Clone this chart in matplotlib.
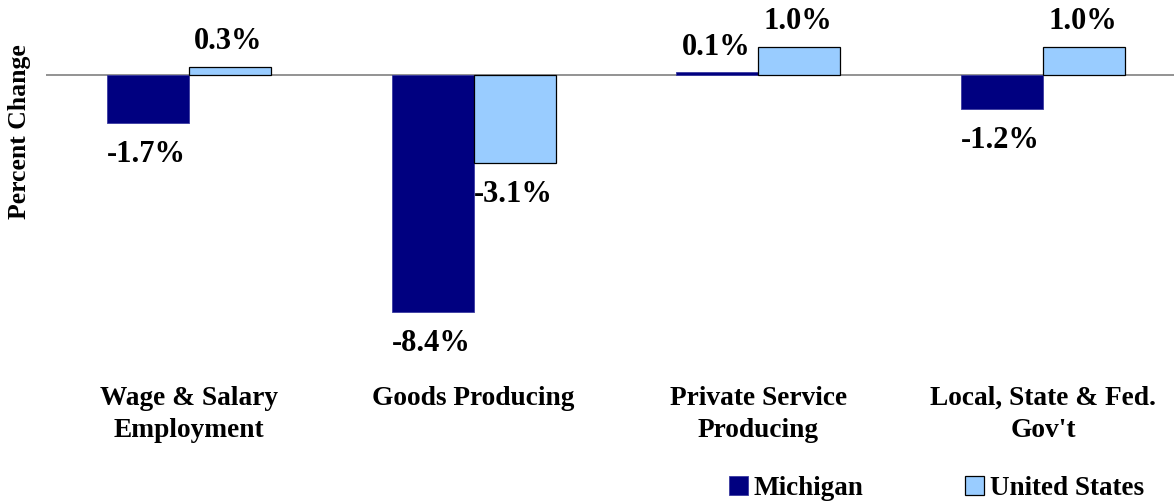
import matplotlib
matplotlib.use("Agg")
import matplotlib.pyplot as plt
import numpy as np

categories = ["Wage & Salary\nEmployment", "Goods Producing", "Private Service\nProducing", "Local, State & Fed.\nGov't"]
michigan = [-1.7, -8.4, 0.1, -1.2]
united_states = [0.3, -3.1, 1.0, 1.0]
series_names = ["Michigan", "United States"]

plt.rcParams['font.family'] = ['Liberation Serif', 'DejaVu Serif']
plt.rcParams['font.weight'] = 'bold'

W, H = 1174, 501
fig = plt.figure(figsize=(W / 100, H / 100), dpi=100)
ax = fig.add_axes([46 / W, 1 - 360 / H, (1174 - 46) / W, 360 / H])

x = np.arange(len(categories))
bw = 0.288
b1 = ax.bar(x - bw / 2, michigan, bw, color='#000080', edgecolor='#3a3aa0', linewidth=0.6, label=series_names[0])
b2 = ax.bar(x + bw / 2, united_states, bw, color='#99CCFF', edgecolor='black', linewidth=0.9, label=series_names[1])

ax.axhline(0, color='#808080', linewidth=1.2, zorder=0)
ax.set_xlim(-0.502, 3.46)
ax.set_ylim(-10.1, 2.66)
for s in ax.spines.values():
    s.set_visible(False)
ax.set_yticks([])
ax.set_xticks([])

for bars, vals in ((b1, michigan), (b2, united_states)):
    for rect, v in zip(bars, vals):
        cx = rect.get_x() + rect.get_width() / 2
        off = 18 if v >= 0 else -23
        ax.annotate(f"{v:.1f}%", (cx, v), xytext=(-1, off), textcoords='offset points',
                    ha='center', va='center', fontsize=22, fontweight='bold')

for xi, lab in zip(x, categories):
    ax.annotate(lab, (xi, 0), xycoords=('data', 'figure fraction'),
                xytext=(xi, 1 - 386 / H), textcoords=('data', 'figure fraction'),
                ha='center', va='top', fontsize=19.7, fontweight='bold', linespacing=1.38)

fig.text(20 / W, 1 - 132 / H, "Percent Change", rotation=90, ha='center', va='center',
         fontsize=18.5, fontweight='bold')

leg = fig.legend(handles=[b1, b2], labels=series_names, loc='lower right',
                 bbox_to_anchor=(0.988, -0.033), ncol=2, frameon=False,
                 prop={'size': 19.5, 'weight': 'bold'}, handlelength=0.68, handleheight=0.68,
                 handletextpad=0.22, columnspacing=3.75, borderaxespad=0.2)

fig.savefig("out.png", dpi=100)
